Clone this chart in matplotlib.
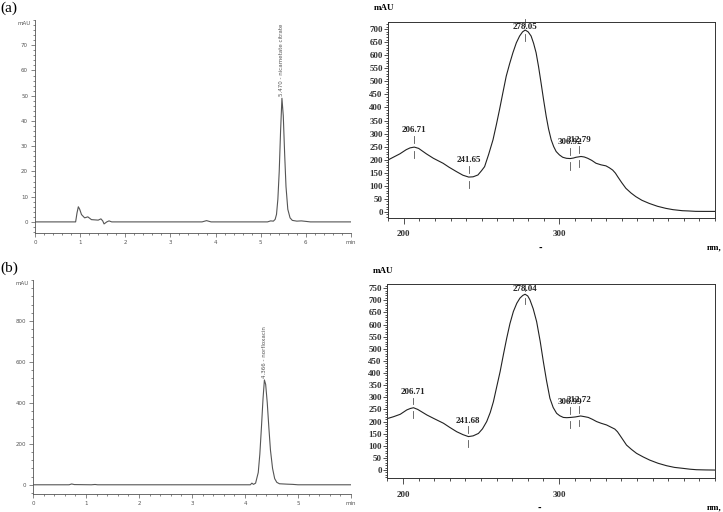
import matplotlib
matplotlib.use("Agg")
from matplotlib import pyplot as plt
from matplotlib.ticker import MultipleLocator

# chromatogram (a) nicametate citrate, time (min) / signal (mAU)
t_a = [0, 0.90, 0.93, 0.96, 0.99, 1.03, 1.10, 1.17, 1.25, 1.40, 1.46, 1.50, 1.53, 1.59, 1.64, 1.70,
       3.70, 3.80, 3.90, 5.15, 5.22, 5.28, 5.32, 5.35, 5.38, 5.41, 5.44, 5.47, 5.50, 5.53, 5.56,
       5.60, 5.65, 5.70, 5.80, 5.90, 6.00, 6.10, 7.0]
y_a = [0, 0, 3.5, 6.0, 5.0, 2.9, 1.6, 2.0, 0.9, 0.7, 1.2, 0.4, -0.8, 0, 0.4, 0,
       0, 0.5, 0, 0, 0.4, 0.3, 1.0, 3.0, 9.0, 20.0, 36.0, 49.0, 42.0, 27.0, 14.0,
       5.0, 1.6, 0.6, 0.3, 0.4, 0.2, 0, 0]
peak_a = (5.470, 49.0, "5.470 - nicametate citrate")

# chromatogram (b) norfloxacin
t_b = [0, 0.68, 0.73, 0.78, 1.10, 1.17, 1.22, 4.10, 4.13, 4.16, 4.20, 4.25, 4.28, 4.31, 4.34, 4.366,
       4.39, 4.42, 4.45, 4.48, 4.52, 4.56, 4.60, 4.65, 4.80, 4.90, 5.00, 6.0]
y_b = [0, 0, 4, 1, 0, 1.5, 0, 0, 8, 2, 8, 60, 150, 280, 420, 512,
       490, 400, 280, 170, 80, 30, 12, 5, 3, 2, 0, 0]
peak_b = (4.366, 512.0, "4.366 - norfloxacin")

# UV spectrum (a), wavelength (nm) / absorbance (mAU)
wl_a = [190.6, 193.5, 197.4, 201.5, 204.0, 206.7, 209.5, 214.5, 219.0, 225.2, 229.0, 233.8, 238.0,
        241.7, 244.5, 247.6, 250.0, 251.9, 254.5, 257.3, 259.5, 261.5, 263.7, 265.8, 268.0,
        270.1, 272.3, 274.4, 276.3, 278.0, 279.9, 281.8, 283.4, 285.0, 286.6, 288.2, 289.8,
        291.5, 293.0, 294.7, 296.3, 297.9, 300.0, 302.1, 304.5, 306.9, 309.0, 310.7,
        313.9, 316.0, 318.2, 320.8, 323.5, 326.7, 329.9, 332.0, 334.2, 336.0, 337.4, 340.0,
        342.7, 346.0, 349.1, 353.0, 357.7, 363.0, 368.4, 373.0, 379.0, 383.0, 387.6, 393.0, 400.0]
ab_a = [201, 210, 222, 238, 245, 248, 243, 222, 205, 186, 171, 154, 140,
        133, 134, 141, 158, 173, 220, 276, 335, 392, 458, 520, 568,
        610, 648, 674, 690, 697, 690, 674, 646, 610, 556, 494, 430,
        366, 318, 276, 250, 231, 218, 209, 205, 204, 206, 209,
        212, 210, 205, 197, 186, 180, 176, 169, 160, 148, 135, 112,
        90, 72, 58, 44, 32, 21, 13, 8, 4, 3, 1.5, 1.3, 1.3]
marks_a = [206.71, 241.65, 278.05, 306.92, 312.79]
marks_a_val = [248, 133, 697, 204, 212]

# UV spectrum (b)
wl_b = [190.4, 194.0, 198.3, 202.5, 204.8, 206.8, 209.5, 215.4, 220.0, 226.0, 230.0, 234.5, 238.5,
        242.0, 245.0, 248.4, 251.0, 253.7, 256.0, 258.0, 260.0, 262.3, 264.4, 266.5, 268.6,
        270.8, 273.0, 275.0, 276.8, 278.3, 280.0, 281.4, 283.5, 285.7, 288.0, 290.0, 292.0,
        294.2, 296.3, 298.5, 300.5, 302.8, 305.0, 307.5, 310.5, 313.9, 316.5, 318.8, 321.5,
        324.1, 327.0, 330.5, 333.0, 335.8, 337.5, 339.0, 341.0, 343.3, 346.5, 349.7, 354.0,
        358.2, 363.5, 368.9, 374.0, 379.5, 384.0, 388.1, 394.0, 400.0]
ab_b = [213, 220, 230, 248, 254, 257, 250, 227, 212, 193, 176, 158, 146,
        138, 141, 151, 170, 200, 238, 282, 340, 406, 476, 543, 604,
        654, 688, 709, 720, 725, 718, 702, 665, 612, 530, 447, 370,
        296, 258, 234, 224, 217, 216, 217, 219, 223, 220, 217, 209,
        200, 193, 186, 178, 169, 158, 144, 125, 103, 85, 69, 54,
        41, 28, 18, 11, 7, 3.5, 1.4, 0.5, 0]
marks_b = [206.71, 241.68, 278.04, 306.99, 312.72]
marks_b_val = [257, 138, 725, 217, 222]

W, H = 723, 512
fig = plt.figure(figsize=(W / 100, H / 100), dpi=100)


def box(x0, x1, top, bottom):
    return [x0 / W, 1 - bottom / H, (x1 - x0) / W, (bottom - top) / H]


gray = "#555555"


def chromatogram(rect, t, y, peak, ylim, ymajor, yminor, xmax, tag, tag_y):
    ax = fig.add_axes(rect)
    ax.plot(t, y, color=gray, lw=0.8)
    ax.set_xlim(0, xmax)
    ax.set_ylim(*ylim)
    for s in ["top", "right"]:
        ax.spines[s].set_visible(False)
    for s in ["left", "bottom"]:
        ax.spines[s].set_color(gray)
        ax.spines[s].set_linewidth(0.6)
    ax.xaxis.set_minor_locator(MultipleLocator(0.2))
    ax.yaxis.set_minor_locator(MultipleLocator(yminor))
    xt = list(range(0, xmax + 1))
    ax.set_xticks(xt)
    ax.set_xticklabels([str(v) for v in xt[:-1]] + ["min"])
    yt = [v for v in range(0, int(ylim[1]), ymajor)]
    ax.set_yticks(yt)
    ax.tick_params(which="both", colors=gray, labelsize=4, width=0.5, pad=2)
    ax.tick_params(which="major", length=3)
    ax.tick_params(which="minor", length=1.5)
    ax.text(-0.035, 0.985, "mAU", transform=ax.transAxes, fontsize=4, color=gray,
            ha="center", va="center")
    pt, pv, lab = peak
    ax.text(pt, pv + (ylim[1] - ylim[0]) * 0.01, lab, rotation=90, fontsize=4, color=gray,
            ha="center", va="bottom")
    fig.text(0.001, tag_y, tag, fontsize=11, family="Liberation Serif", va="center", ha="left")
    return ax


def spectrum(rect, wl, ab, marks, mvals, ylim, ymax_tick):
    ax = fig.add_axes(rect)
    ax.plot(wl, ab, color="#222222", lw=0.8)
    ax.set_xlim(190, 400)
    ax.set_ylim(*ylim)
    for s in ax.spines.values():
        s.set_linewidth(0.7)
        s.set_color("#333333")
    ax.set_xticks([200, 300])
    ax.xaxis.set_minor_locator(MultipleLocator(10))
    ax.set_yticks(list(range(0, ymax_tick + 1, 50)))
    ax.yaxis.set_minor_locator(MultipleLocator(10))
    ax.tick_params(which="both", direction="out", width=0.6, colors="#333333")
    ax.tick_params(axis="x", which="major", length=4, pad=5)
    ax.tick_params(axis="x", which="minor", length=2.5)
    ax.tick_params(axis="y", which="major", length=3, pad=1)
    ax.tick_params(axis="y", which="minor", length=1.2)
    for lbl in ax.get_xticklabels() + ax.get_yticklabels():
        lbl.set_fontfamily("Liberation Serif")
        lbl.set_fontweight("bold")
        lbl.set_fontsize(6.5)
    top = ylim[1]
    for m, v in zip(marks, mvals):
        ax.plot([m, m], [v + 15, v + 42], color="#555555", lw=0.6, clip_on=False)
        ax.plot([m, m], [v - 15, v - 42], color="#555555", lw=0.6, clip_on=False)
        ly = min(v + 65, top - 20)
        ax.text(m, ly, f"{m:.2f}", family="Liberation Serif", weight="bold", fontsize=6.5,
                ha="center", va="center", color="#222222")
    ax.text(-0.045, 1.07, "mAU", transform=ax.transAxes, family="Liberation Serif",
            weight="bold", fontsize=6.5, ha="left", va="center")
    ax.text(1.02, -0.15, "nm,", transform=ax.transAxes, family="Liberation Serif",
            weight="bold", fontsize=6.5, ha="right", va="center")
    ax.text(0.465, -0.155, "-", transform=ax.transAxes, family="DejaVu Sans",
            weight="bold", fontsize=6, ha="center", va="center")
    return ax


chromatogram(box(35, 351, 20, 233), t_a, y_a, peak_a, (-4.4, 80), 10, 2, 7, "(a)", 1 - 8 / H)
chromatogram(box(33, 351, 280, 494), t_b, y_b, peak_b, (-45, 1000), 200, 40, 6, "(b)", 1 - 268 / H)
spectrum(box(388.3, 715, 21.7, 218), wl_a, ab_a, marks_a, marks_a_val, (-24, 729), 700)
spectrum(box(387.3, 715, 284.3, 478.3), wl_b, ab_b, marks_b, marks_b_val, (-34, 766), 750)

plt.savefig("out.png", dpi=100)
